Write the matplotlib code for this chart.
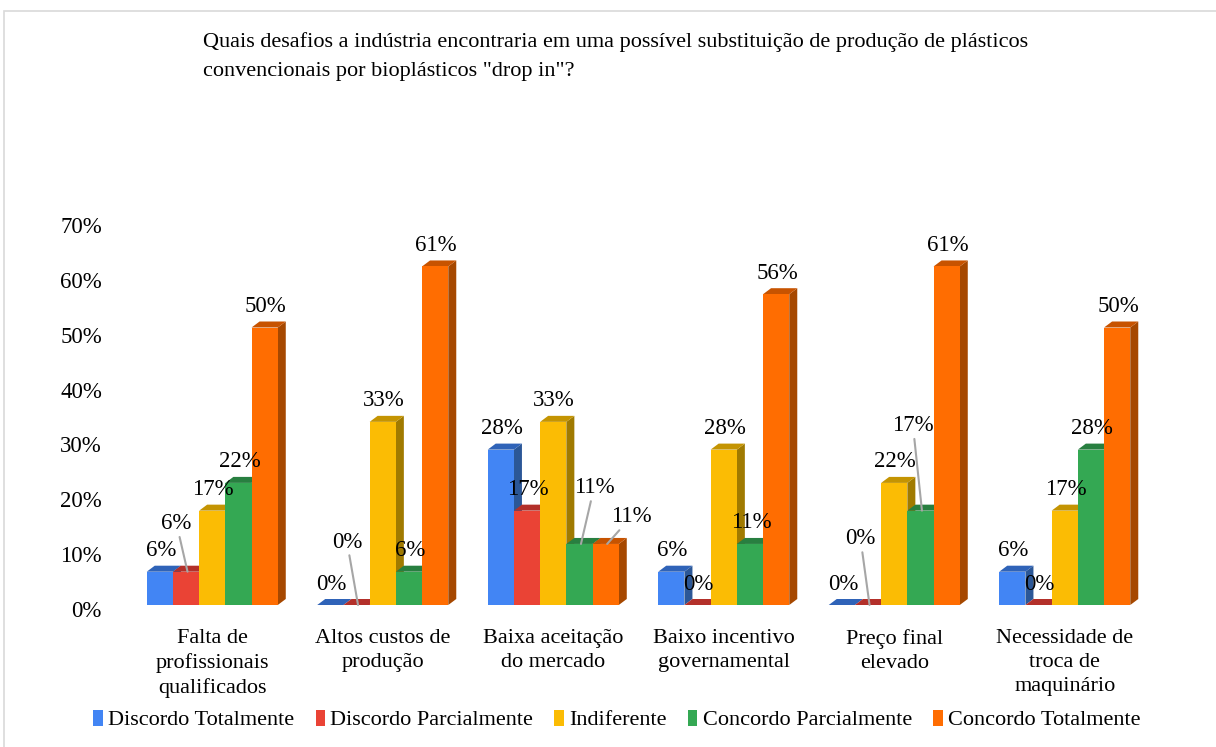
import matplotlib
matplotlib.use("Agg")
import matplotlib.pyplot as plt
from matplotlib.patches import Polygon, Rectangle, Patch

plt.rcParams['font.family'] = ['Liberation Serif', 'DejaVu Serif']

# ---------------- data ----------------
title = ('Quais desafios a indústria encontraria em uma possível substituição de produção de plásticos\n'
         'convencionais por bioplásticos "drop in"?')
categories = ["Falta de\nprofissionais\nqualificados", "Altos custos de\nprodução",
              "Baixa aceitação\ndo mercado", "Baixo incentivo\ngovernamental",
              "Preço final\nelevado", "Necessidade de\ntroca de\nmaquinário"]
series_names = ["Discordo Totalmente", "Discordo Parcialmente", "Indiferente",
                "Concordo Parcialmente", "Concordo Totalmente"]
discordo_total = [6, 0, 28, 6, 0, 6]
discordo_parcial = [6, 0, 17, 0, 0, 0]
indiferente = [17, 33, 33, 28, 22, 17]
concordo_parcial = [22, 6, 11, 11, 17, 28]
concordo_total = [50, 61, 11, 56, 61, 50]
series_values = [discordo_total, discordo_parcial, indiferente, concordo_parcial, concordo_total]
y_ticks = [0, 10, 20, 30, 40, 50, 60, 70]

# ---------------- style ----------------
front_colors = ["#4285F4", "#EA4335", "#FBBC04", "#34A853", "#FF6D01"]
top_colors = ["#2F63B8", "#B3302A", "#C49402", "#287F40", "#C75300"]
side_colors = ["#2B5797", "#A02A24", "#A07A00", "#226E37", "#A64800"]

# label offsets in pixels (label centre relative to bar front-top centre); default used otherwise
default_off = (1, 21)
special_off = {(0, 1): (-11, 48), (1, 1): (-11, 63), (2, 3): (13, 56),
               (2, 4): (24, 27), (4, 1): (-9, 66), (4, 3): (-9, 85)}

W, H = 1216, 747
fig = plt.figure(figsize=(W / 100, H / 100), dpi=100)

# chart border
fig.patches.append(Rectangle((4 / W, -0.1), 1.2, 1 - 11 / H + 0.1, transform=fig.transFigure,
                             fill=False, edgecolor="#D9D9D9", linewidth=1.2))

ax = fig.add_axes([127 / W, (H - 605) / H, 1023 / W, 388.5 / H])
ax.set_xlim(-0.5, 5.5)
ax.set_ylim(0, 70)
for s in ax.spines.values():
    s.set_visible(False)
ax.set_yticks([])

bw = 0.1537
dx = 8 / 170.5
dy = 6 / 5.55
n = len(series_values)
for i, vals in enumerate(series_values):
    xs = [g + (i - (n - 1) / 2) * bw for g in range(len(categories))]
    bars = ax.bar(xs, vals, width=bw, color=front_colors[i], linewidth=0, zorder=3 + 3 * i + 2)
    for b in bars:
        x0 = b.get_x()
        x1 = x0 + b.get_width()
        v = b.get_height()
        side = Polygon([(x1, 0), (x1 + dx, dy), (x1 + dx, v + dy), (x1, v)], closed=True,
                       facecolor=side_colors[i], edgecolor="none", zorder=3 + 3 * i, clip_on=False)
        top = Polygon([(x0, v), (x1, v), (x1 + dx, v + dy), (x0 + dx, v + dy)], closed=True,
                      facecolor=top_colors[i], edgecolor="none", zorder=3 + 3 * i + 1, clip_on=False)
        ax.add_patch(side)
        ax.add_patch(top)

# data labels
LFS = 16.5
for i, vals in enumerate(series_values):
    for g, v in enumerate(vals):
        xc = g + (i - (n - 1) / 2) * bw
        off = special_off.get((g, i), default_off)
        if (g, i) in special_off:
            ax.annotate(f"{v}%", xy=(xc + 1.5 / 170.5, v), xytext=off, textcoords="offset pixels",
                        ha="center", va="center", fontsize=LFS, zorder=40,
                        arrowprops=dict(arrowstyle="-", color="#A6A6A6", lw=1.5,
                                        shrinkA=0, shrinkB=0))
        else:
            ax.annotate(f"{v}%", xy=(xc, v), xytext=off, textcoords="offset pixels",
                        ha="center", va="center", fontsize=LFS, zorder=40)

# category labels
ax.set_xticks(range(len(categories)))
ax.set_xticklabels(categories, fontsize=16, linespacing=1.36)
ax.tick_params(axis="x", length=0, pad=17)

# y tick labels (drawn on back wall, slightly different projection)
ax_l = fig.add_axes([127 / W, (H - 609) / H, 0.0001, 384 / H])
ax_l.set_ylim(0, 70)
ax_l.set_yticks(y_ticks)
ax_l.set_yticklabels([f"{t}%" for t in y_ticks], fontsize=16.5)
ax_l.tick_params(axis="y", length=0, pad=18)
ax_l.set_xticks([])
for s in ax_l.spines.values():
    s.set_visible(False)
ax_l.patch.set_visible(False)

# title
fig.text(203 / W, 1 - 32 / H, title, ha="left", va="top", fontsize=16, linespacing=1.7)

# legend
handles = [Patch(facecolor=c, edgecolor="none") for c in front_colors]
fig.legend(handles, series_names, loc="center", bbox_to_anchor=(617 / W, 1 - 720 / H), ncol=5,
           frameon=False, fontsize=16, handlelength=0.42, handleheight=0.75, handletextpad=0.25,
           columnspacing=0.95)

fig.savefig("out.png", dpi=100)
